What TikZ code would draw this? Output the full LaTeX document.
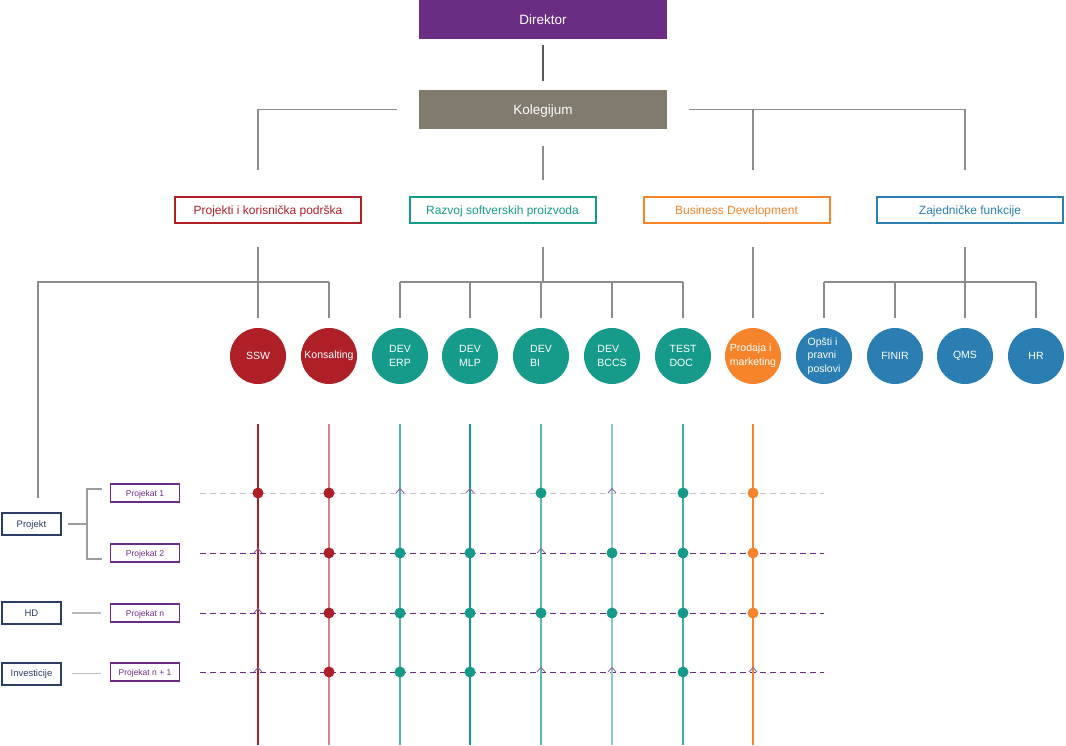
\documentclass[tikz,border=0pt]{standalone}
\usepackage{fontspec}
\setmainfont{Liberation Sans}
\definecolor{dirpurple}{HTML}{6B2D83}
\definecolor{kolgray}{HTML}{807B6D}
\definecolor{pkred}{HTML}{AE1F28}
\definecolor{rspteal}{HTML}{169B8B}
\definecolor{bdorange}{HTML}{F5842B}
\definecolor{zfblue}{HTML}{2A7EB1}
\definecolor{navy}{HTML}{2C3E63}
\definecolor{linegray}{HTML}{8C8C8C}
\definecolor{rowlight}{HTML}{CBC2D8}

\begin{document}
\begin{tikzpicture}[x=1pt, y=-1pt,
  head/.style={text height=9.7pt, text depth=0pt, text=white, minimum width=248pt, minimum height=39pt, inner sep=0pt, font=\fontsize{13.5}{16}\selectfont},
  dept/.style={text height=8.6pt, text depth=0pt, draw, line width=2pt, minimum width=186pt, minimum height=26pt, inner sep=0pt, font=\fontsize{12}{14}\selectfont},
  unit/.style={circle, minimum size=56pt, inner sep=0pt, text=white, align=left, font=\fontsize{10.5}{13.5}\selectfont},
  link/.style={draw=linegray, line width=1.1pt},
  kind/.style={text height=6.8pt, text depth=0pt, draw=navy, line width=2pt, text=navy, minimum width=59pt, minimum height=22pt, inner sep=0pt, font=\fontsize{9.5}{11}\selectfont},
  proj/.style={text height=6.1pt, text depth=0pt, draw=dirpurple, line width=1.2pt, text=dirpurple, minimum width=69pt, minimum height=18pt, inner sep=0pt, font=\fontsize{8.5}{10}\selectfont},
  row/.style={dirpurple, line width=0.9pt, dash pattern=on 6pt off 4pt},
  hit/.style={circle, minimum size=11pt, inner sep=0pt},
  hop/.style={dirpurple!75, line width=0.9pt}
]
  \useasboundingbox (0,0) rectangle (1066,745);
  % top
  \node[head, fill=dirpurple] (direktor) at (543,19.5) {Direktor};
  \node[head, fill=kolgray] (kolegijum) at (543,109.5) {Kolegijum};
  % departments
  \foreach \name/\x/\col/\txt in {pk/268/pkred/{Projekti i korisnička podrška},
      rsp/502.5/rspteal/{Razvoj softverskih proizvoda},
      bd/736.5/bdorange/{Business Development},
      zf/970/zfblue/{Zajedničke funkcije}} {
    \node[dept, draw=\col, text=\col] (\name) at (\x,210) {\txt};
  };
  % units
  \foreach \name/\x/\col/\txt in {ssw/258/pkred/SSW, konsalting/329/pkred/Konsalting,
      erp/400/rspteal/{DEV\\ERP}, mlp/470/rspteal/{DEV\\MLP}, bi/541/rspteal/{DEV\\BI},
      bccs/612/rspteal/{DEV\\BCCS}, testdoc/683/rspteal/{TEST\\DOC},
      prodaja/753/bdorange/{Prodaja i\\marketing}, opsti/824/zfblue/{Opšti i\\pravni\\poslovi},
      finir/895/zfblue/FINIR, qms/965/zfblue/QMS, hr/1036/zfblue/HR} {
    \node[unit, fill=\col] (\name) at (\x,356) {\txt};
  };
  % kinds of work and projects
  \node[kind] (projekt) at (31.5,524) {Projekt};
  \node[kind] (hd) at (31.5,613) {HD};
  \node[kind] (invest) at (31.5,673.5) {Investicije};
  \node[proj] (p1) at (145,493) {Projekat 1};
  \node[proj] (p2) at (145,553) {Projekat 2};
  \node[proj] (pn) at (145,613) {Projekat n};
  \node[proj] (pn1) at (145,672) {Projekat n + 1};
  \coordinate (lvl-in) at (0,170);
  \coordinate (lvl-out) at (0,247);
  \coordinate (bus) at (0,282);
  %
  % tree
  \draw[link, draw=black!65, shorten <=6pt, shorten >=9pt] (direktor) -- (kolegijum);
  \draw[link] ([xshift=-22pt]kolegijum.west) -| (ssw |- lvl-in);
  \draw[link] ([xshift=22pt]kolegijum.east) -| (qms |- lvl-in);
  \draw[link] (prodaja |- kolegijum.east) -- (prodaja |- lvl-in);
  \draw[link] ([yshift=-17pt]kolegijum.south) -- ([yshift=-51pt]kolegijum.south);
  \draw[link] (ssw |- lvl-out) -- (ssw |- bus);
  \draw[link] ([xshift=6.5pt, yshift=14pt]projekt.north) |- (konsalting |- bus);
  \draw[link] (kolegijum |- lvl-out) -- (kolegijum |- bus);
  \draw[link] (erp |- bus) -- (testdoc |- bus);
  \draw[link] (qms |- lvl-out) -- (qms |- bus);
  \draw[link] (opsti |- bus) -- (hr |- bus);
  \draw[link, shorten >=10pt] (prodaja |- lvl-out) -- (prodaja);
  \foreach \n in {ssw,konsalting,erp,mlp,bi,bccs,testdoc,opsti,finir,qms,hr} {
    \draw[link, shorten >=10pt] (\n |- bus) -- (\n);
  };
  % projects
  \coordinate (fork) at (87,524);
  \draw[link, draw=linegray!85] ([xshift=6pt]projekt.east) -- (fork);
  \draw[link, draw=linegray!85] ([xshift=-8pt, yshift=4pt]p1.west) -| (fork) |- ([xshift=-8pt, yshift=-6pt]p2.west);
  \draw[link, draw=linegray!60, line width=1.6pt] ([xshift=10pt]hd.east) -- ++(29,0);
  \draw[link, draw=linegray!60, line width=1.6pt] ([xshift=10pt]invest.east) -- ++(29,0);
  % rows
  \draw[row, draw=rowlight] ([xshift=20pt]p1.east) -- (opsti |- p1.east);
  \foreach \p in {p2,pn,pn1} {
    \draw[row] ([xshift=20pt]\p.east) -- (opsti |- \p.east);
  };
  % columns
  \foreach \n/\col/\w in {ssw/pkred/1.4, konsalting/pkred!55/2.4, erp/rspteal!75/2.2,
      mlp/rspteal/1.4, bi/rspteal!70/1.8, bccs/rspteal!50/2.5, testdoc/rspteal!80/2,
      prodaja/bdorange/1.5} {
    \draw[\col, line width=\w pt] ([yshift=-40pt]\n.south) -- ([yshift=-361pt]\n.south);
  };
  % hops
  \foreach \n/\p in {erp/p1, mlp/p1, bccs/p1, ssw/p2, bi/p2, ssw/pn,
      ssw/pn1, bi/pn1, bccs/pn1, prodaja/pn1} {
    \draw[hop, shift={(\n |- \p.east)}] (-4,0) -- (0,-4.5) -- (4,0);
  };
  % dots
  \foreach \n/\col in {ssw/pkred, konsalting/pkred, bi/rspteal, testdoc/rspteal, prodaja/bdorange} {
    \node[hit, fill=\col] (d1-\n) at (\n |- p1.east) {};
  };
  \foreach \n/\col in {konsalting/pkred, erp/rspteal, mlp/rspteal, bccs/rspteal, testdoc/rspteal, prodaja/bdorange} {
    \node[hit, fill=\col] (d2-\n) at (\n |- p2.east) {};
  };
  \foreach \n/\col in {konsalting/pkred, erp/rspteal, mlp/rspteal, bi/rspteal, bccs/rspteal, testdoc/rspteal, prodaja/bdorange} {
    \node[hit, fill=\col] (dn-\n) at (\n |- pn.east) {};
  };
  \foreach \n/\col in {konsalting/pkred, erp/rspteal, mlp/rspteal, testdoc/rspteal} {
    \node[hit, fill=\col] (dn1-\n) at (\n |- pn1.east) {};
  };

\end{tikzpicture}
\end{document}
